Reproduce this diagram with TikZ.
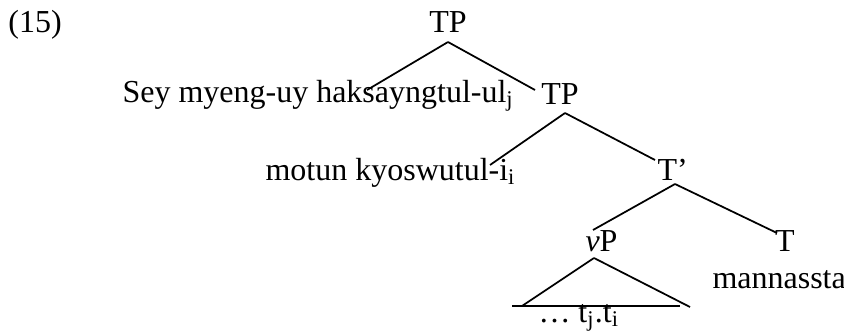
\documentclass[tikz,border=0pt]{standalone}
\usepackage{fontspec}
\setmainfont{Liberation Serif}
\usetikzlibrary{positioning}
\tikzset{
  word/.style={anchor=base west, inner sep=0pt, font=\fontsize{12.8}{15}\selectfont},
  cat/.style={anchor=base, inner sep=0pt, font=\fontsize{12.8}{15}\selectfont},
  branch/.style={line width=0.7pt}
}
\begin{document}
\begin{tikzpicture}[x=0.4pt, y=-0.4pt]
\useasboundingbox (0,0) rectangle (844,334);
\node[word] (ex) at (8,32) {(15)};
\node[cat] (tpa) at (448,32) {TP};
\node[word] (spa) at (122,102) {Sey myeng-uy haksayngtul-ul\textsubscript{j}};
\node[cat] (tpb) at (560,104) {TP};
\node[word] (spb) at (265,180) {motun kyoswutul-i\textsubscript{i}};
\node[word] (tbar) at (657,180) {T’};
\node[word] (vp) at (585,251) {\textit{v}P};
\node[cat] (t) at (785,251) {T};
\node[word] (verb) at (712,288) {mannassta};
\node[word] (trace) at (538,322) {… t\textsubscript{j}.t\textsubscript{i}};
% branching points
\coordinate (tpa-b) at (448,42);
\coordinate (tpb-b) at (565,113);
\coordinate (tbar-b) at (675,184);
\coordinate (vp-b) at (594,258);
\draw[branch] (tpa-b) -- (367,90);
\draw[branch] (tpa-b) -- (535,90);
\draw[branch] (tpb-b) -- (490,165);
\draw[branch] (tpb-b) -- (655,160);
\draw[branch] (tbar-b) -- (593,230);
\draw[branch] (tbar-b) -- (777,233);
% triangle
\draw[branch] (vp-b) -- (522,306);
\draw[branch] (vp-b) -- (690,307);
\draw[branch] (512,306) -- (680,306);
\end{tikzpicture}
\end{document}
